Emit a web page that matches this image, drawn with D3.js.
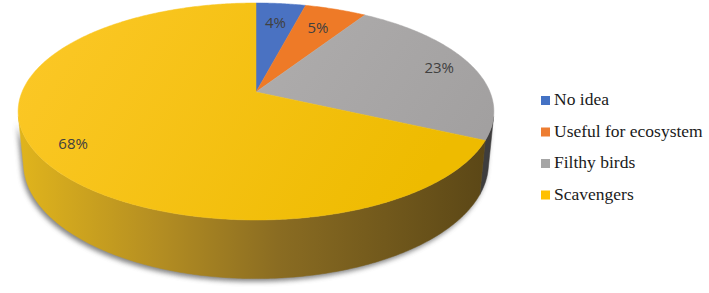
<!DOCTYPE html>
<html>
<head>
<meta charset="utf-8">
<script src="https://cdn.jsdelivr.net/npm/d3@7"></script>
<style>
	body { margin: 0; background: #fff; }
	svg { display: block; }
</style>
</head>
<body>
<div id="pie"><svg width="709" height="293"></svg></div>
<script>
var categories = ['No idea', 'Useful for ecosystem', 'Filthy birds', 'Scavengers'];
var values = [4, 5, 23, 68];
var labels = ['4%', '5%', '23%', '68%'];
var legendColors = ['#4472c4', '#ed7d31', '#a5a5a5', '#ffc000'];

// perspective camera for the 3d disk (fitted to the picture)
var CX = 256, CY = 92, SCALE = 234;
var SIN_T = 0.4487, COS_T = Math.sqrt(1 - SIN_T*SIN_T);
var DIST = 4.974;
var DEPTH = 0.25;

function project(a, r, y) {
	var X = Math.sin(a)*r;
	var Z = -Math.cos(a)*r;
	var d = DIST - y*SIN_T - Z*COS_T;
	var up = y*COS_T - Z*SIN_T;
	return [CX + SCALE*X*DIST/d, CY - SCALE*up*DIST/d];
}

function arcPoints(a0, a1, y) {
	var pts = [];
	var n = Math.max(2, Math.ceil((a1 - a0)/0.01));
	for (var i = 0; i <= n; i++) {
		pts.push(project(a0 + (a1 - a0)*i/n, 1, y));
	}
	return pts;
}

function toPath(pts) {
	return 'M' + pts.map(function(p) { return p[0].toFixed(2) + ',' + p[1].toFixed(2); }).join('L') + 'Z';
}

function drawLegend(svg) {
	var rowStep = 31.5;
	categories.forEach(function(c, i) {
		svg.append('rect')
			.attr('x', 541).attr('y', 96 + i*rowStep)
			.attr('width', 9).attr('height', 9)
			.attr('fill', legendColors[i]);
		svg.append('text')
			.attr('x', 554).attr('y', 105 + i*rowStep)
			.attr('font-family', 'Times New Roman, Liberation Serif, Tinos, serif')
			.attr('font-size', 17.5)
			.attr('fill', '#1a1a1a')
			.text(c);
	});
}

function drawPie(svg) {
	var defs = svg.append('defs');

	var blur = defs.append('filter').attr('id', 'shadow')
		.attr('x', '-10%').attr('y', '-10%').attr('width', '120%').attr('height', '130%');
	blur.append('feGaussianBlur').attr('stdDeviation', 2.5);

	var sideGrad = defs.append('linearGradient').attr('id', 'sideYellow')
		.attr('gradientUnits', 'userSpaceOnUse')
		.attr('x1', 20).attr('y1', 0).attr('x2', 490).attr('y2', 0);
	sideGrad.append('stop').attr('offset', 0).attr('stop-color', '#e0b41c');
	sideGrad.append('stop').attr('offset', 0.3).attr('stop-color', '#b38d22');
	sideGrad.append('stop').attr('offset', 0.55).attr('stop-color', '#8a6c22');
	sideGrad.append('stop').attr('offset', 1).attr('stop-color', '#5a4616');

	var topGrad = defs.append('linearGradient').attr('id', 'topYellow')
		.attr('gradientUnits', 'userSpaceOnUse')
		.attr('x1', 60).attr('y1', 10).attr('x2', 400).attr('y2', 220);
	topGrad.append('stop').attr('offset', 0).attr('stop-color', '#fbc725');
	topGrad.append('stop').attr('offset', 1).attr('stop-color', '#eebb00');

	var grayGrad = defs.append('linearGradient').attr('id', 'topGray')
		.attr('gradientUnits', 'userSpaceOnUse')
		.attr('x1', 300).attr('y1', 20).attr('x2', 480).attr('y2', 140);
	grayGrad.append('stop').attr('offset', 0).attr('stop-color', '#adabab');
	grayGrad.append('stop').attr('offset', 1).attr('stop-color', '#a2a0a0');

	var topFill = ['#4a72c2', '#ee7a27', 'url(#topGray)', 'url(#topYellow)'];
	var sideFill = ['#2c4274', '#8a4514', '#3e3d3d', 'url(#sideYellow)'];

	var arcs = d3.pie().sort(null).startAngle(0).endAngle(2*Math.PI)(values);

	// outer wall is visible where cos(a) < -1/(DIST*cos t)
	var lim = Math.acos(-1/(DIST*COS_T));
	var aMin = lim, aMax = 2*Math.PI - lim;

	var g = svg.append('g');

	// soft shadow under the disk
	var shadowPts = arcPoints(aMin, aMax, 0).concat(arcPoints(aMin, aMax, -DEPTH).reverse());
	g.append('path')
		.attr('d', toPath(shadowPts))
		.attr('transform', 'translate(-2,3)')
		.attr('fill', '#5a5a5a')
		.attr('opacity', 0.75)
		.attr('filter', 'url(#shadow)');

	// side walls
	arcs.forEach(function(d, i) {
		var a0 = Math.max(d.startAngle, aMin);
		var a1 = Math.min(d.endAngle, aMax);
		if (a1 <= a0) return;
		var pts = arcPoints(a0, a1, 0).concat(arcPoints(a0, a1, -DEPTH).reverse());
		g.append('path')
			.attr('d', toPath(pts))
			.attr('fill', sideFill[i])
			.attr('stroke', sideFill[i])
			.attr('stroke-width', 0.5);
	});

	// top faces
	arcs.forEach(function(d, i) {
		var pts = [project(0, 0, 0)].concat(arcPoints(d.startAngle, d.endAngle, 0));
		g.append('path')
			.attr('d', toPath(pts))
			.attr('fill', topFill[i])
			.attr('stroke', topFill[i])
			.attr('stroke-width', 0.5);
	});

	// data labels
	arcs.forEach(function(d, i) {
		var mid = (d.startAngle + d.endAngle)/2;
		var r = d.value < 10 ? 0.75 : 0.85;
		var p = project(mid, r, 0);
		g.append('text')
			.attr('x', p[0])
			.attr('y', p[1])
			.attr('dy', '0.35em')
			.attr('text-anchor', 'middle')
			.attr('font-family', 'Open Sans, sans-serif')
			.attr('font-size', 15)
			.attr('fill', '#404040')
			.text(labels[i]);
	});
}

var svg = d3.select('#pie').select('svg');
drawPie(svg);
drawLegend(svg);
</script>
</body>
</html>
